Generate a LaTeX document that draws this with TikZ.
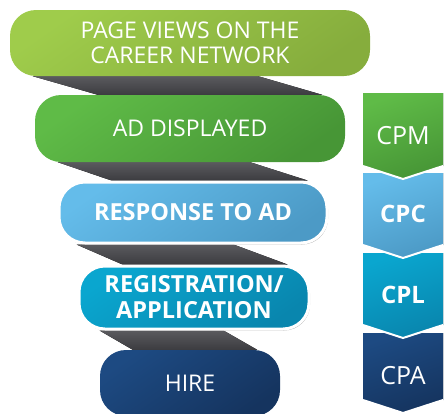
\documentclass[tikz,border=0pt]{standalone}
\usepackage{fontspec}
\setmainfont{Open Sans}
\usepackage{tikz}
\usepackage{xcolor}
\usetikzlibrary{shadows, backgrounds}
\definecolor{limeA}{HTML}{9FCC4B}
\definecolor{limeB}{HTML}{86AD3D}
\definecolor{grnA}{HTML}{5FBB47}
\definecolor{grnB}{HTML}{479636}
\definecolor{skyA}{HTML}{64BCEA}
\definecolor{skyB}{HTML}{4C9AC6}
\definecolor{tealA}{HTML}{0AA6CF}
\definecolor{tealB}{HTML}{0986AE}
\definecolor{navyA}{HTML}{1D4A82}
\definecolor{navyB}{HTML}{15345F}
\definecolor{bandA}{HTML}{5A5A5E}
\definecolor{bandB}{HTML}{3C3C40}
\tikzset{Funnel/.style = {% funnel of the hiring steps
     pill/.style = {rectangle, rounded corners=26pt, inner sep=0pt,
                    align=center, text=white,
                    font=\fontsize{23}{25}\selectfont},
  plainpill/.style = {pill},
   boxpill/.style = {pill, draw=white, line width=3pt,
                     font=\fontsize{23.5}{26}\selectfont\bfseries,
                     drop shadow={shadow xshift=1pt, shadow yshift=-1.5pt,
                                  opacity=0.35, fill=black}},
      band/.style = {top color=bandA, bottom color=bandB},
     price/.style = {text=white, font=\fontsize{25}{26}\selectfont}}
        }

\begin{document}
\begin{tikzpicture}[Funnel, x=1pt, y=-1pt]
\useasboundingbox (0,0) rectangle (444,413);

% nodes
\node (views)  [plainpill, minimum width=360pt, minimum height=66pt,
                top color=limeA, bottom color=limeB, shading angle=35]
               at (190,43) {PAGE VIEWS ON THE\\CAREER NETWORK};
\node (shown)  [plainpill, minimum width=310pt, minimum height=67pt,
                top color=grnA, bottom color=grnB, shading angle=35]
               at (190,128.5) {AD DISPLAYED};
\node (reply)  [boxpill, minimum width=268pt, minimum height=61pt,
                top color=skyA, bottom color=skyB, shading angle=35]
               at (193,212.5) {RESPONSE TO AD};
\node (signup) [boxpill, minimum width=230pt, minimum height=63pt,
                top color=tealA, bottom color=tealB, shading angle=35]
               at (194,297.5) {REGISTRATION/\\APPLICATION};
\node (hire)   [plainpill, minimum width=180pt, minimum height=66pt,
                top color=navyA, bottom color=navyB, shading angle=35]
               at (190,383) {HIRE};

% extra paths
\begin{scope}[on background layer]
\fill[band] ([xshift=23pt]views.south west) -- ([xshift=-112pt]views.south east)
         -- ([xshift=-23pt]shown.north east) -- ([xshift=63pt]shown.north west) -- cycle;
\fill[band] ([xshift=23pt]shown.south west) -- ([xshift=-95pt]shown.south east)
         -- ([xshift=-21pt]reply.north east) -- ([xshift=54pt]reply.north west) -- cycle;
\fill[band] ([xshift=19pt]reply.south west) -- ([xshift=-95pt]reply.south east)
         -- ([xshift=-23pt]signup.north east) -- ([xshift=45pt]signup.north west) -- cycle;
\fill[band] ([xshift=22pt]signup.south west) -- ([xshift=-87pt]signup.south east)
         -- ([xshift=-23pt]hire.north east) -- ([xshift=33pt]hire.north west) -- cycle;

% cost column, drawn from the bottom up
\foreach \top/\bot/\col in {333/400/navy, 253/325/teal, 173/245/sky, 93/166/grn} {
  \fill[top color=\col A, bottom color=\col B, shading angle=20]
    (363,\top) -- (443,\top) -- (443,\bot) -- (403,{\bot+13}) -- (363,\bot) -- cycle;
  \draw[white, line width=2pt] (363,\bot) -- (403,{\bot+13}) -- (443,\bot);
}
\end{scope}

\node (cpm) [price] at (403,136) {CPM};
\node (cpc) [price, font=\fontsize{24}{26}\selectfont\bfseries] at (403,214) {CPC};
\node (cpl) [price, font=\fontsize{24}{26}\selectfont\bfseries] at (403,295) {CPL};
\node (cpa) [price] at (403,376) {CPA};
\end{tikzpicture}
\end{document}
